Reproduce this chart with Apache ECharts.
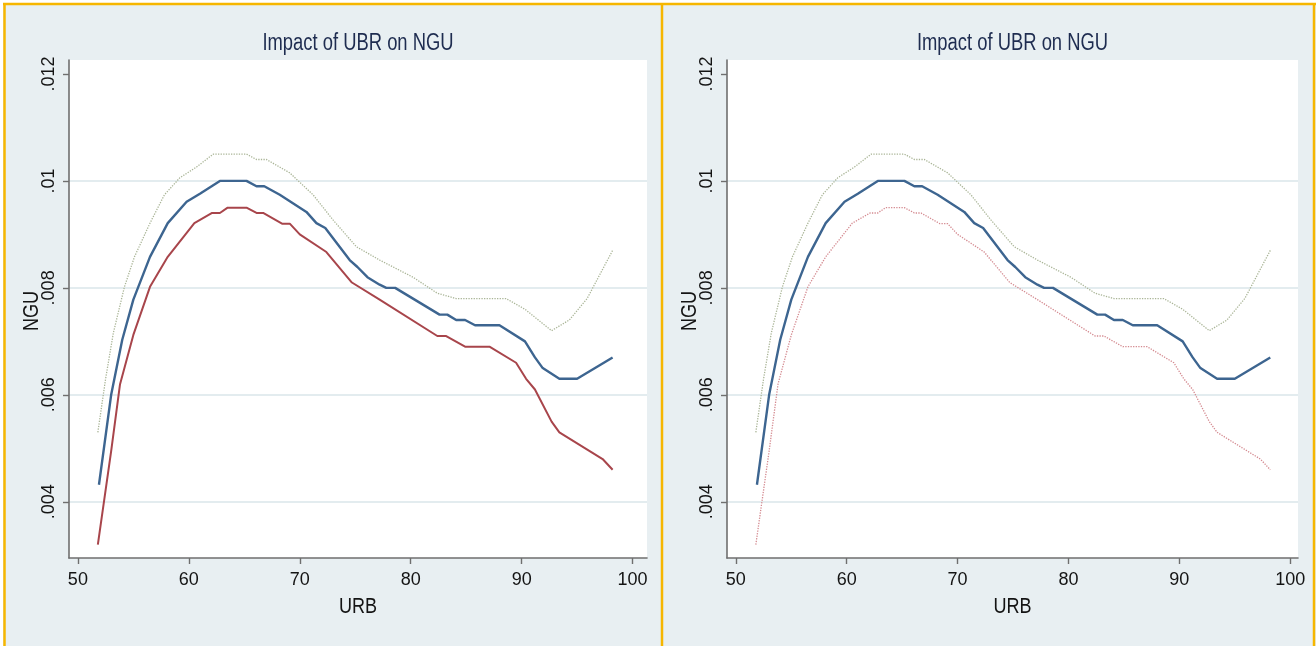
<!DOCTYPE html>
<html>
<head>
<meta charset="utf-8">
<title>Impact of UBR on NGU</title>
<script src="https://cdn.jsdelivr.net/npm/echarts@6/dist/echarts.min.js"></script>
<style>
  html, body { margin: 0; padding: 0; background: #ffffff; }
  #chart { width: 1316px; height: 646px; }
</style>
</head>
<body>
<div id="chart"></div>
<script>
// Local-polynomial fit of NGU on URB with its confidence band
const urbFit = [51.9, 53.0, 54.0, 55.0, 56.5, 58.1, 59.8, 61.0, 62.8, 65.2, 66.1, 66.8, 68.2, 70.6, 71.5, 72.3, 74.5, 75.2, 76.1, 77.2, 77.8, 78.6, 82.6, 83.3, 84.1, 84.9, 85.8, 88.0, 90.3, 91.2, 91.9, 93.4, 95.0, 98.2];
const ngFit  = [0.00432, 0.0060, 0.00703, 0.00778, 0.00858, 0.00921, 0.00961, 0.00976, 0.0100, 0.0100, 0.0099, 0.0099, 0.00974, 0.00942, 0.00921, 0.00912, 0.00852, 0.00839, 0.0082, 0.00806, 0.0080, 0.0080, 0.0075, 0.0075, 0.0074, 0.0074, 0.0073, 0.0073, 0.0070, 0.0067, 0.0065, 0.0063, 0.0063, 0.0067];

const urbLow = [51.8, 53.0, 53.8, 55.0, 56.5, 58.1, 60.5, 62.1, 62.8, 63.5, 65.2, 66.1, 66.7, 68.4, 69.1, 70.0, 72.4, 74.7, 77.2, 82.4, 83.2, 84.9, 87.1, 89.5, 90.4, 91.2, 92.7, 93.4, 97.3, 98.2];
const ngLow  = [0.0032, 0.00495, 0.0062, 0.00712, 0.00802, 0.00858, 0.00921, 0.0094, 0.0094, 0.0095, 0.0095, 0.0094, 0.0094, 0.0092, 0.0092, 0.0090, 0.00867, 0.0081, 0.00778, 0.0071, 0.0071, 0.0069, 0.0069, 0.0066, 0.0063, 0.0061, 0.0055, 0.0053, 0.0048, 0.0046];

const urbHigh = [51.8, 52.5, 53.2, 54.2, 55.1, 56.5, 57.8, 59.2, 60.7, 62.2, 65.2, 66.1, 67.0, 69.1, 71.2, 73.0, 75.1, 77.2, 80.2, 82.4, 84.1, 88.6, 90.3, 92.7, 94.3, 95.9, 98.2];
const ngHigh  = [0.0053, 0.0063, 0.00716, 0.00802, 0.00858, 0.00921, 0.00974, 0.01006, 0.01026, 0.0105, 0.0105, 0.0104, 0.0104, 0.01015, 0.00974, 0.00927, 0.00877, 0.00852, 0.0082, 0.0079, 0.0078, 0.0078, 0.0076, 0.0072, 0.0074, 0.0078, 0.0087];

// Axis ticks and their labels
const urbTicks = [50, 60, 70, 80, 90, 100];
const urbTickLabels = ['50', '60', '70', '80', '90', '100'];
const ngTicks = [0.004, 0.006, 0.008, 0.010, 0.012];
const ngTickLabels = ['.004', '.006', '.008', '.01', '.012'];

const titleText = 'Impact of UBR on NGU';
const xName = 'URB';
const yName = 'NGU';

const pairs = (xs, ys) => xs.map((x, i) => [x, ys[i]]);

const FONT = "'Liberation Sans', Arial, Helvetica, sans-serif";
const PANEL_BG = '#e8eff2';
const FRAME = '#f6b600';
const INK = '#141414';

// Plot rectangles of the two panels
const grids = [
  { left: 69, top: 60, width: 578, height: 498, xMax: 101.3 },
  { left: 727, top: 60, width: 571, height: 498, xMax: 100.7 }
];

function xAxisFor(gridIndex, max) {
  return {
    type: 'value', gridIndex, min: 49.2, max,
    axisLine: { show: true, lineStyle: { color: '#6f6f6f', width: 1.6 } },
    axisTick: { show: true, customValues: urbTicks, length: 6, lineStyle: { color: '#6f6f6f', width: 1.4 } },
    axisLabel: {
      customValues: urbTicks, margin: 13,
      fontFamily: FONT, fontSize: 18, color: INK,
      formatter: v => urbTickLabels[urbTicks.indexOf(v)] ?? ''
    },
    splitLine: { show: false }
  };
}

function yAxisFor(gridIndex) {
  return {
    type: 'value', gridIndex, min: 0.00295, max: 0.01226,
    axisLine: { show: true, lineStyle: { color: '#6f6f6f', width: 1.6 } },
    axisTick: { show: true, customValues: ngTicks, length: 6, lineStyle: { color: '#6f6f6f', width: 1.4 } },
    axisLabel: {
      customValues: ngTicks, rotate: 90, margin: 11,
      fontFamily: FONT, fontSize: 18, color: INK,
      formatter: v => {
        const i = ngTicks.findIndex(t => Math.abs(t - v) < 1e-9);
        return i >= 0 ? ngTickLabels[i] : '';
      }
    },
    splitLine: { show: true, showMinLine: true, showMaxLine: false, lineStyle: { color: '#e3ecef', width: 2 } }
  };
}

function band(gridIndex, name, xs, ys, color, width, type, z) {
  return {
    name, type: 'line', xAxisIndex: gridIndex, yAxisIndex: gridIndex,
    data: pairs(xs, ys), showSymbol: false, symbol: 'none', z,
    lineStyle: { color, width, type }, silent: true
  };
}

// Narrow-set texts: title above each plot, axis titles below and to the left
function panelTexts(g) {
  const cx = g.left + g.width / 2;
  const cy = g.top + g.height / 2;
  return [
    { type: 'text', x: cx, y: 44, scaleX: 0.8, z: 50,
      style: { text: titleText, font: `23px ${FONT}`, fill: '#1e2c50', align: 'center', verticalAlign: 'middle' } },
    { type: 'text', x: cx, y: 607, scaleX: 0.82, z: 50,
      style: { text: xName, font: `22px ${FONT}`, fill: INK, align: 'center', verticalAlign: 'middle' } },
    { type: 'text', x: g.left - 37, y: cy + 2, rotation: Math.PI / 2, scaleX: 0.82, z: 50,
      style: { text: yName, font: `22px ${FONT}`, fill: INK, align: 'center', verticalAlign: 'middle' } }
  ];
}

const chart = echarts.init(document.getElementById('chart'), null, { renderer: 'canvas' });

chart.setOption({
  backgroundColor: '#ffffff',
  animation: false,
  graphic: [
    { type: 'rect', z: -10, shape: { x: 3, y: 3, width: 1313, height: 643 }, style: { fill: PANEL_BG } },
    { type: 'line', z: 100, shape: { x1: 3, y1: 4, x2: 1316, y2: 4 }, style: { stroke: FRAME, lineWidth: 2.5 } },
    { type: 'line', z: 100, shape: { x1: 4.5, y1: 3, x2: 4.5, y2: 646 }, style: { stroke: FRAME, lineWidth: 2.5 } },
    { type: 'line', z: 100, shape: { x1: 662, y1: 3, x2: 662, y2: 646 }, style: { stroke: FRAME, lineWidth: 2.5 } },
    { type: 'line', z: 100, shape: { x1: 1314, y1: 3, x2: 1314, y2: 646 }, style: { stroke: FRAME, lineWidth: 2.5 } },
    ...panelTexts(grids[0]),
    ...panelTexts(grids[1])
  ],
  grid: grids.map(g => ({
    left: g.left, top: g.top, width: g.width, height: g.height,
    show: true, backgroundColor: '#ffffff', borderWidth: 0
  })),
  xAxis: grids.map((g, i) => xAxisFor(i, g.xMax)),
  yAxis: grids.map((g, i) => yAxisFor(i)),
  series: [
    // left panel: fit, lower bound solid, upper bound dotted
    band(0, 'upper', urbHigh, ngHigh, '#aab597', 1.3, 'dotted', 2),
    band(0, 'lower', urbLow, ngLow, '#a8454b', 2, 'solid', 3),
    band(0, 'fit', urbFit, ngFit, '#3d6590', 2.4, 'solid', 4),
    // right panel: fit with both bounds dotted
    band(1, 'upper', urbHigh, ngHigh, '#aab597', 1.3, 'dotted', 2),
    band(1, 'lower', urbLow, ngLow, '#d48a90', 1.3, 'dotted', 3),
    band(1, 'fit', urbFit, ngFit, '#3d6590', 2.4, 'solid', 4)
  ]
});
</script>
</body>
</html>
